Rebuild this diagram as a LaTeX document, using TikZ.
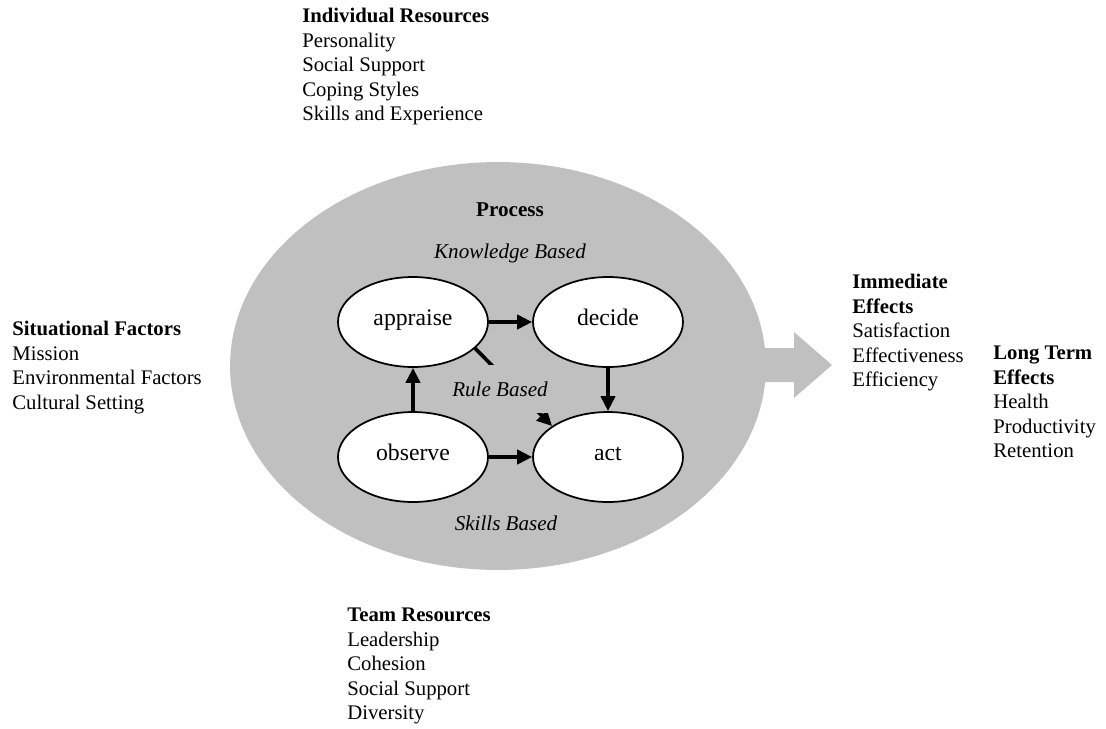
\documentclass[tikz,border=0pt]{standalone}
\usepackage{fontspec}
\setmainfont{Liberation Serif}
\usetikzlibrary{arrows.meta,shapes.geometric}
\definecolor{procgray}{HTML}{C0C0C0}
\tikzset{
  stage/.style={ellipse, draw, line width=1pt, fill=white, inner sep=0pt,
    minimum width=3cm, minimum height=1.8cm, text height=0.6em, text depth=0.25em,
    font=\fontsize{13.5}{15}\selectfont},
  flow/.style={line width=2.1pt, -{Triangle[length=8.5pt,width=8pt]}},
  block/.style={anchor=north west, inner sep=0pt, align=left,
    font=\fontsize{11.8}{13.9}\selectfont},
  level/.style={font=\fontsize{12}{13.9}\selectfont\itshape}
}
\begin{document}
\begin{tikzpicture}[x=0.02cm, y=-0.02cm]
  \useasboundingbox (0,0) rectangle (1106,728);

  % Process
  \fill[procgray] (700,348) -- (794,348) -- (794,332) -- (832,365)
    -- (794,398) -- (794,382) -- (700,382) -- cycle;
  \fill[procgray] (498,366) ellipse [x radius=5.36cm, y radius=4.08cm];
  \node[font=\fontsize{12}{13.9}\selectfont\bfseries] (process) at (510,210) {Process};
  \node[level] (knowledge) at (510,253) {Knowledge Based};
  \node[level] (skills) at (506,523) {Skills Based};

  \node[stage] (appraise) at (413,322) {appraise};
  \node[stage] (decide) at (608,322) {decide};
  \node[stage] (observe) at (413,457) {observe};
  \node[stage] (act) at (608,457) {act};

  \draw[flow] (appraise) -- (decide);
  \draw[flow] (decide) -- (act);
  \draw[flow] (observe) -- (appraise);
  \draw[flow] (observe) -- (act);
  \draw[flow] (appraise.-23) -- (act.151);
  \node[level, fill=procgray, inner xsep=3pt, minimum height=0.96cm] (rule) at (500,389) {Rule Based};

  % Resources and effects
  \node[block] (individual) at (302,8) {\textbf{Individual Resources}\\Personality\\Social Support\\Coping Styles\\Skills and Experience};
  \node[block] (situational) at (12,321) {\textbf{Situational Factors}\\Mission\\Environmental Factors\\Cultural Setting};
  \node[block] (immediate) at (852,274) {\textbf{Immediate}\\\textbf{Effects}\\Satisfaction\\Effectiveness\\Efficiency};
  \node[block] (longterm) at (993,346) {\textbf{Long Term}\\\textbf{Effects}\\Health\\Productivity\\Retention};
  \node[block] (team) at (347,608) {\textbf{Team Resources}\\Leadership\\Cohesion\\Social Support\\Diversity};
\end{tikzpicture}
\end{document}
